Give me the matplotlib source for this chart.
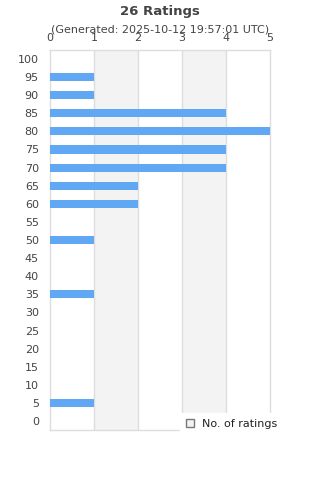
import matplotlib
matplotlib.use('Agg')
import matplotlib.pyplot as plt

# ── data ──────────────────────────────────────────────
ratings = [100, 95, 90, 85, 80, 75, 70, 65, 60, 55, 50,
           45, 40, 35, 30, 25, 20, 15, 10, 5, 0]
counts  = [0, 1, 1, 4, 5, 4, 4, 2, 2, 0, 1,
           0, 0, 1, 0, 0, 0, 0, 0, 1, 0]
x_ticks = [0, 1, 2, 3, 4, 5]

title    = "26 Ratings"
subtitle = "(Generated: 2025-10-12 19:57:01 UTC)"
bar_col  = '#60a8f3'
txt_col  = '#444444'
grid_col = '#dddddd'

fig = plt.figure(figsize=(3.2, 4.8), dpi=100)
ax = fig.add_axes([0.156, 0.104, 0.6875, 0.792])

# rows top-to-bottom: 100 at top
ypos = list(range(len(ratings)))[::-1]
ax.barh(ypos, counts, height=0.45, color=bar_col, zorder=3)

# alternating bands
for i in range(len(x_ticks) - 1):
    if i % 2 == 1:
        ax.axvspan(x_ticks[i], x_ticks[i + 1], color='#f3f3f3', zorder=0, lw=0)
for xt in x_ticks[1:-1]:
    ax.axvline(xt, color=grid_col, lw=1, zorder=1)

ax.set_xlim(0, 5)
ax.set_ylim(-0.5, len(ratings) - 0.5)
ax.set_yticks(ypos)
ax.set_yticklabels([str(r) for r in ratings])
ax.set_xticks(x_ticks)
ax.xaxis.tick_top()
ax.tick_params(axis='both', length=0, labelsize=8, colors=txt_col)
ax.tick_params(axis='x', pad=5)
ax.tick_params(axis='y', pad=8)
for s in ax.spines.values():
    s.set_color(grid_col)
    s.set_linewidth(1)

fig.text(0.5, 0.977, title, ha='center', va='center', fontsize=9.5,
         fontweight='bold', color=txt_col)
fig.text(0.5, 0.938, subtitle, ha='center', va='center', fontsize=8,
         color=txt_col)

leg = ax.legend(['No. of ratings'], loc='lower right',
                bbox_to_anchor=(0.885, 0.095), bbox_transform=fig.transFigure,
                fontsize=8, frameon=True, fancybox=False, borderaxespad=0,
                handlelength=0.7, handleheight=0.7, handletextpad=0.8,
                borderpad=0.5)
leg.get_frame().set_facecolor('white')
leg.get_frame().set_edgecolor('white')
leg.get_frame().set_alpha(1)
for h in leg.legend_handles:
    h.set_edgecolor('#777777')
    h.set_linewidth(1)
for t in leg.get_texts():
    t.set_color('#222222')
leg.set_zorder(10)

fig.savefig('out.png', dpi=100)
